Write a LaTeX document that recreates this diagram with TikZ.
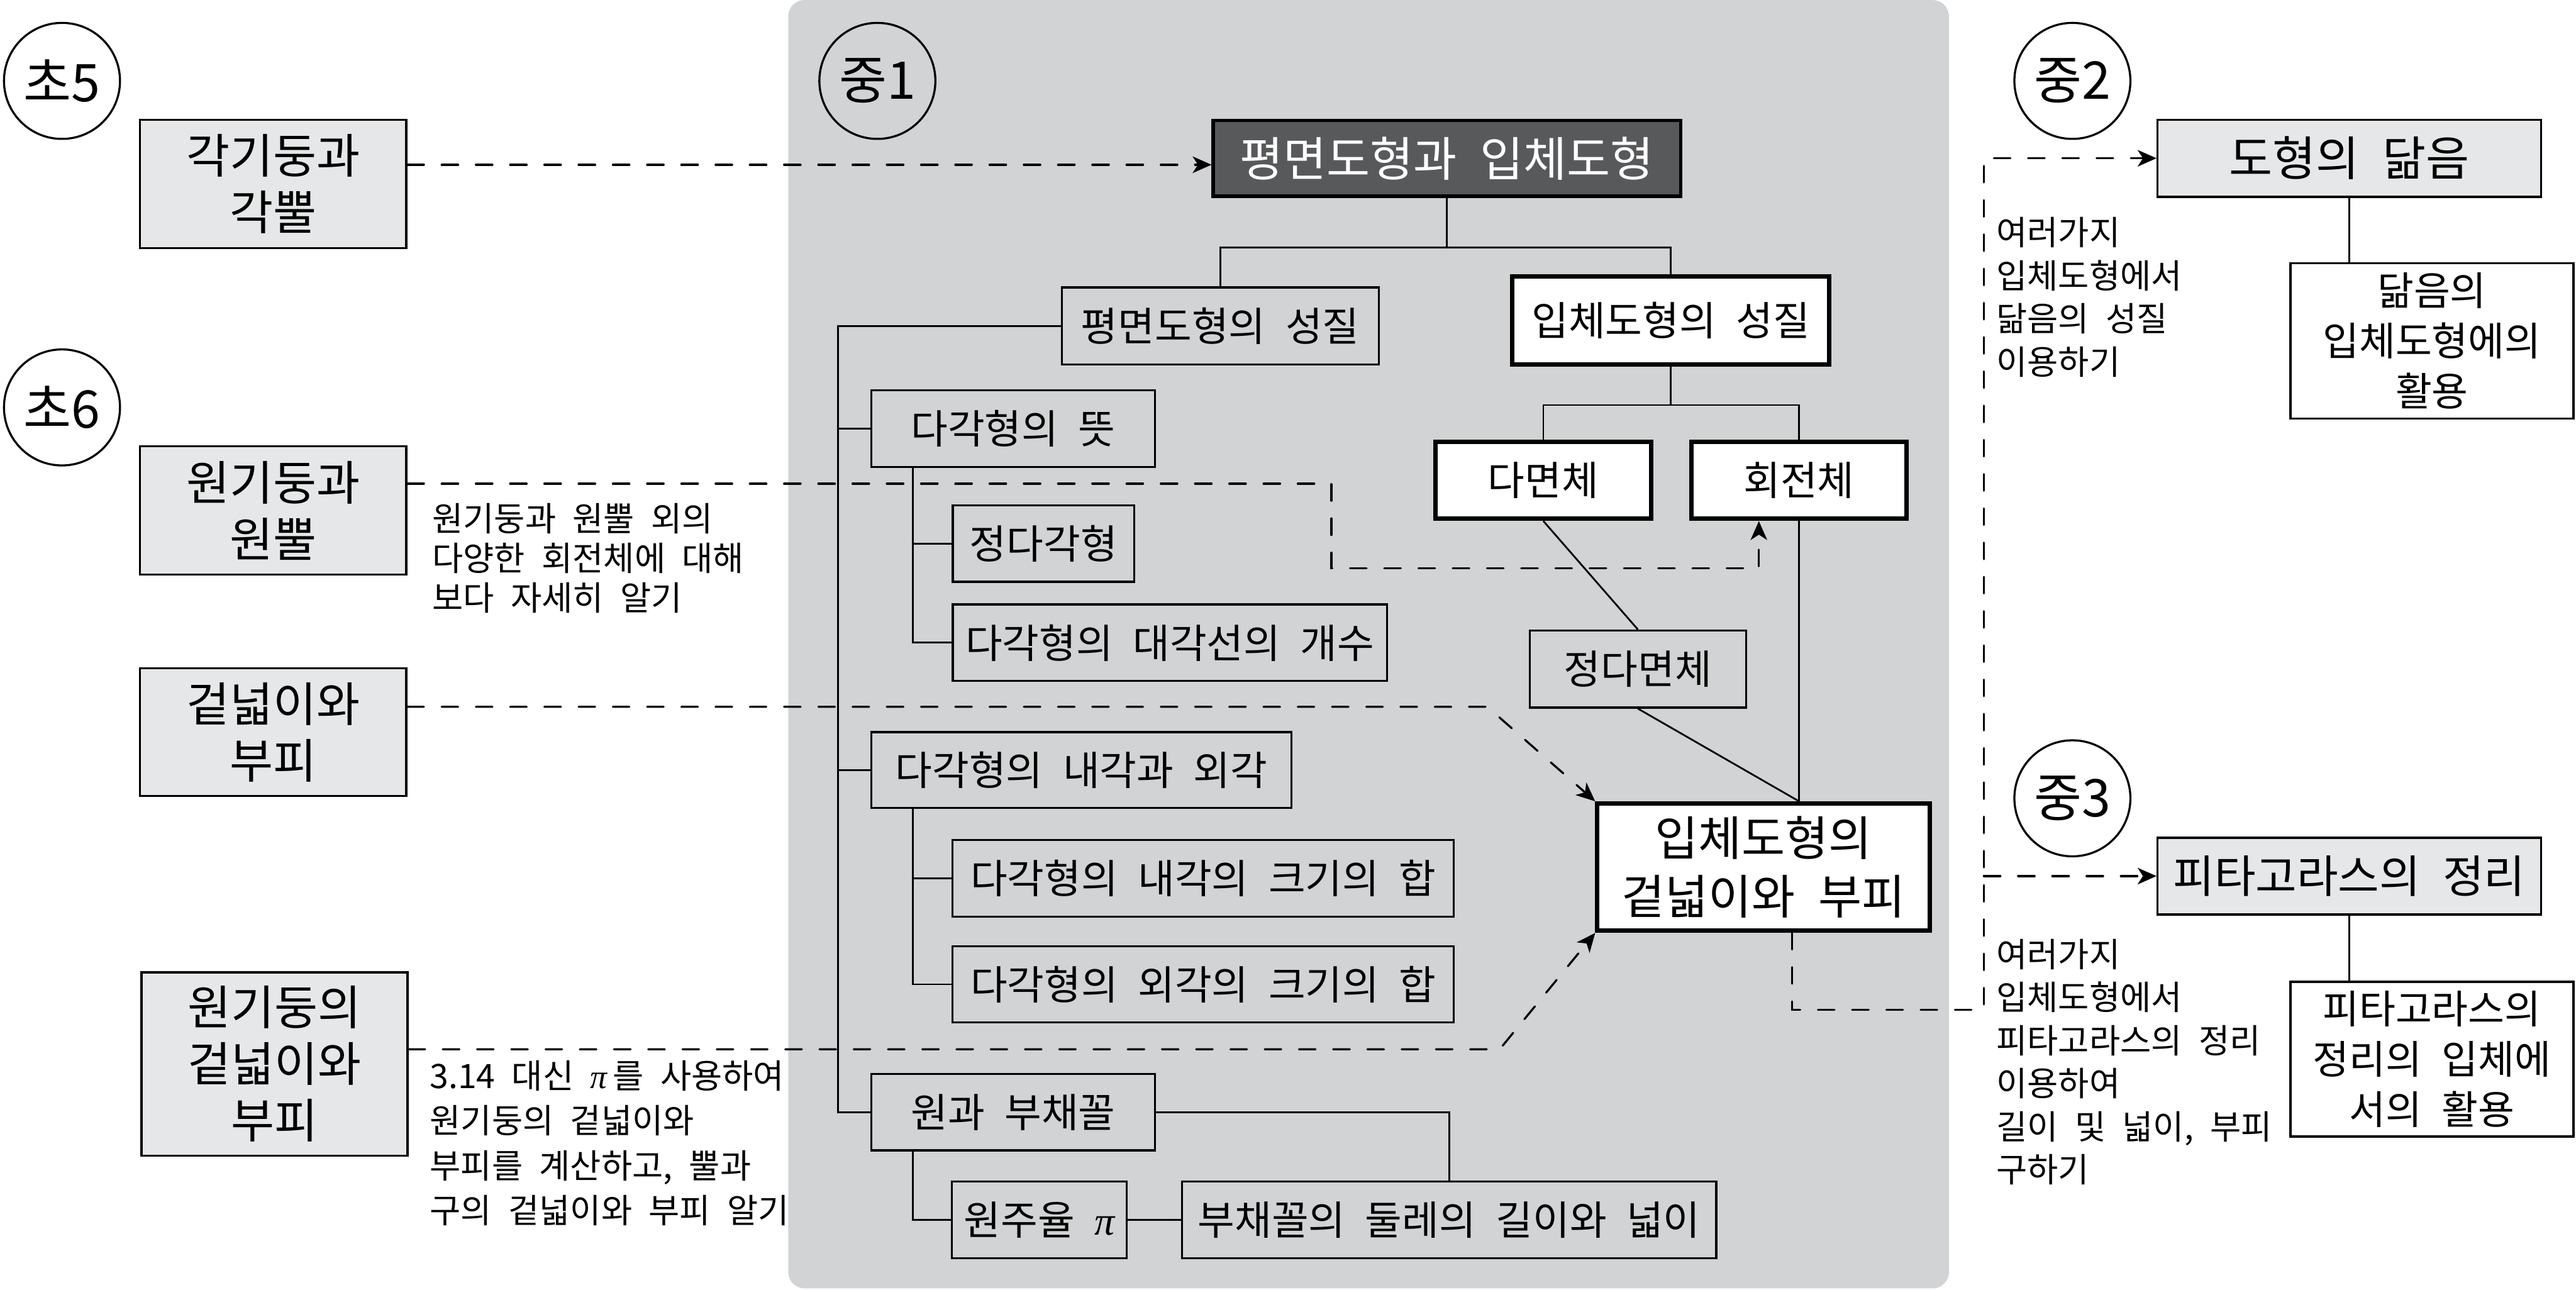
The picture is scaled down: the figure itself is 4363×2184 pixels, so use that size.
\documentclass[tikz,border=0pt]{standalone}
\usepackage{fontspec}
\setmainfont{Noto Sans CJK KR}[WordSpace=2.2]
\newfontfamily\pifont{Liberation Serif}
\usetikzlibrary{arrows.meta}
\definecolor{panelgray}{RGB}{209,211,212}
\definecolor{lightfill}{RGB}{230,231,232}
\definecolor{darkfill}{RGB}{88,89,91}
\newcommand\FCirc{\fontsize{88}{100}\selectfont}
\newcommand\FBig{\fontsize{80}{96}\selectfont}
\newcommand\FMid{\fontsize{68}{82}\selectfont}
\newcommand\FRb{\fontsize{67}{85}\selectfont}
\newcommand\FAnn{\fontsize{57}{73}\selectfont}
\newcommand\PiSym{{\pifont\itshape π}}
\begin{document}
\begin{tikzpicture}[x=1pt,y=-1pt,
  box/.style={draw, line width=3.5pt, inner sep=0pt, align=center, font=\FMid},
  lbox/.style={box, fill=lightfill, font=\FBig},
  rbox/.style={box, fill=white, font=\FRb},
  tbox/.style={draw, line width=7.5pt, fill=white, inner sep=0pt, align=center, font=\FMid},
  topbox/.style={draw, line width=5.5pt, fill=darkfill, text=white, inner sep=0pt, align=center, font=\FBig},
  grade/.style={draw, circle, line width=3.5pt, minimum size=196.5pt, inner sep=0pt, font=\FCirc},
  ann/.style={anchor=north west, align=left, inner sep=0pt, font=\FAnn},
  conn/.style={line width=3pt},
  dsh/.style={line width=3.5pt, line cap=round, dash pattern=on 28pt off 30pt, -{Stealth[length=32pt,width=28pt,inset=9pt]}}
]
\useasboundingbox (0,0) rectangle (4363,2184);
\fill[panelgray, rounded corners=28pt] (1335,0) rectangle (3301,2182);

% grade circles
\node[grade] (c5) at (105,137) {초5};
\node[grade] (c6) at (105,690) {초6};
\node[grade] (m1) at (1486,137) {중1};
\node[grade] (m2) at (3510,137) {중2};
\node[grade] (m3) at (3510,1352) {중3};

% left boxes
\node[lbox, minimum width=451.5pt, minimum height=217.5pt] (b5) at (462.5,311.5) {각기둥과\\각뿔};
\node[lbox, minimum width=451.5pt, minimum height=217.5pt] (b6a) at (462.5,864.5) {원기둥과\\원뿔};
\node[lbox, minimum width=451.5pt, minimum height=216.5pt] (b6b) at (462.5,1240) {겉넓이와\\부피};
\node[lbox, minimum width=450.5pt, minimum height=310.5pt] (b6c) at (465,1802) {원기둥의\\겉넓이와\\부피};

% middle
\node[topbox, minimum width=791.5pt, minimum height=128.5pt] (top) at (2450.5,268) {평면도형과 입체도형};
\node[box, minimum width=537pt, minimum height=130.5pt] (p1) at (2066.7,552) {평면도형의 성질};
\node[tbox, minimum width=536pt, minimum height=149.5pt] (s1) at (2829.7,542.5) {입체도형의 성질};
\node[tbox, minimum width=364.5pt, minimum height=130pt] (pd) at (2614,813.7) {다면체};
\node[tbox, minimum width=364.5pt, minimum height=130pt] (rv) at (3047,813.7) {회전체};
\node[box, minimum width=366.5pt, minimum height=130.5pt] (rp) at (2774,1133) {정다면체};
\node[tbox, font=\fontsize{80}{100}\selectfont, minimum width=563pt, minimum height=215.5pt] (sv) at (2987,1468.5) {입체도형의\\겉넓이와 부피};

\node[box, minimum width=480.5pt, minimum height=130.5pt] (d1) at (1716,726) {다각형의 뜻};
\node[box, minimum width=307.5pt, minimum height=129.5pt] (d2) at (1767.5,920.5) {정다각형};
\node[box, minimum width=735.5pt, minimum height=129.5pt] (d3) at (1981.5,1088.5) {다각형의 대각선의 개수};
\node[box, minimum width=711.5pt, minimum height=128.5pt] (d4) at (1831.5,1304) {다각형의 내각과 외각};
\node[box, minimum width=849pt, minimum height=129.5pt] (d5) at (2038,1487.5) {다각형의 내각의 크기의 합};
\node[box, minimum width=849pt, minimum height=128.5pt] (d6) at (2038,1667) {다각형의 외각의 크기의 합};
\node[box, minimum width=480.5pt, minimum height=129.5pt] (d7) at (1716,1883.5) {원과 부채꼴};
\node[box, minimum width=296pt, minimum height=130.5pt] (d8) at (1760.3,2066) {원주율 \PiSym};
\node[box, minimum width=905pt, minimum height=130.5pt] (d9) at (2454.3,2066) {부채꼴의 둘레의 길이와 넓이};

% right
\node[lbox, minimum width=649.5pt, minimum height=130.5pt] (sim) at (3979,268) {도형의 닮음};
\node[rbox, minimum width=479.5pt, minimum height=263.5pt] (simu) at (4119,577.3) {닮음의\\입체도형에의\\활용};
\node[lbox, font=\fontsize{76}{90}\selectfont, minimum width=649.5pt, minimum height=130pt] (pyt) at (3979,1483.7) {피타고라스의 정리};
\node[rbox, minimum width=479.5pt, minimum height=262pt] (pytu) at (4119,1793.7) {피타고라스의\\정리의 입체에\\서의 활용};

% annotations
\node[ann, font=\fontsize{57}{67}\selectfont] (t1) at (732,852) {원기둥과 원뿔 외의\\다양한 회전체에 대해\\보다 자세히 알기};
\node[ann, font=\fontsize{57}{76}\selectfont] (t2) at (728,1796) {3.14 대신 \PiSym\,를 사용하여\\원기둥의 겉넓이와\\부피를 계산하고, 뿔과\\구의 겉넓이와 부피 알기};
\node[ann] (t3) at (3381,368) {여러가지\\입체도형에서\\닮음의 성질\\이용하기};
\node[ann] (t4) at (3381,1590) {여러가지\\입체도형에서\\피타고라스의 정리\\이용하여\\길이 및 넓이, 부피\\구하기};

% tree connectors
\coordinate (j1) at (2450.5,419.5);
\draw[conn] (top.south) -- (j1);
\draw[conn] (p1.north) |- (j1) -| (s1.north);
\coordinate (tr) at (1419,0);
\draw[conn] (p1.west) -| (tr |- d7.west) -- (d7.west);
\draw[conn] (tr |- d1.west) -- (d1.west);
\draw[conn] (tr |- d4.west) -- (d4.west);
\coordinate (st) at (1546,0);
\draw[conn] (st |- d1.south) |- (d3.west);
\draw[conn] (st |- d2.west) -- (d2.west);
\draw[conn] (st |- d4.south) |- (d6.west);
\draw[conn] (st |- d5.west) -- (d5.west);
\draw[conn] (st |- d7.south) |- (d8.west);
\draw[conn] (d8.east) -- (d9.west);
\draw[conn] (d7.east) -| (d9.north);
\coordinate (j2) at (2829.7,686);
\draw[conn] (s1.south) -- (j2);
\draw[conn] (pd.north) |- (j2) -| (rv.north);
\draw[conn] (pd.south) -- (rp.north);
\coordinate (svt) at (rv.south |- sv.north);
\draw[conn] (rv.south) -- (svt);
\draw[conn] (rp.south) -- (svt);
\draw[conn] (sim.south) -- (sim.south |- simu.north);
\draw[conn] (pyt.south) -- (pyt.south |- pytu.north);

% dashed links
\coordinate (ya) at (0,279);
\draw[dsh] (b5.east |- ya) -- (top.west |- ya);
\coordinate (bb1) at (2255,819);
\coordinate (bb2) at (2979,962.5);
\draw[dsh] (b6a.east |- bb1) -- (bb1) |- (bb2) -- (bb2 |- rv.south);
\coordinate (cb) at (2519,1197);
\draw[dsh] (b6b.east |- cb) -- (cb) -- (sv.north west);
\coordinate (db) at (2540,1777);
\draw[dsh] (b6c.east |- db) -- (db) -- (sv.south west);
\coordinate (e1) at (3035,1710);
\coordinate (e2) at (3360,1710);
\draw[dsh] (sv.south -| e1) -- (e1) -- (e2) |- (sim.west);
\draw[dsh] (e2 |- pyt.west) -- (pyt.west);
\end{tikzpicture}
\end{document}
